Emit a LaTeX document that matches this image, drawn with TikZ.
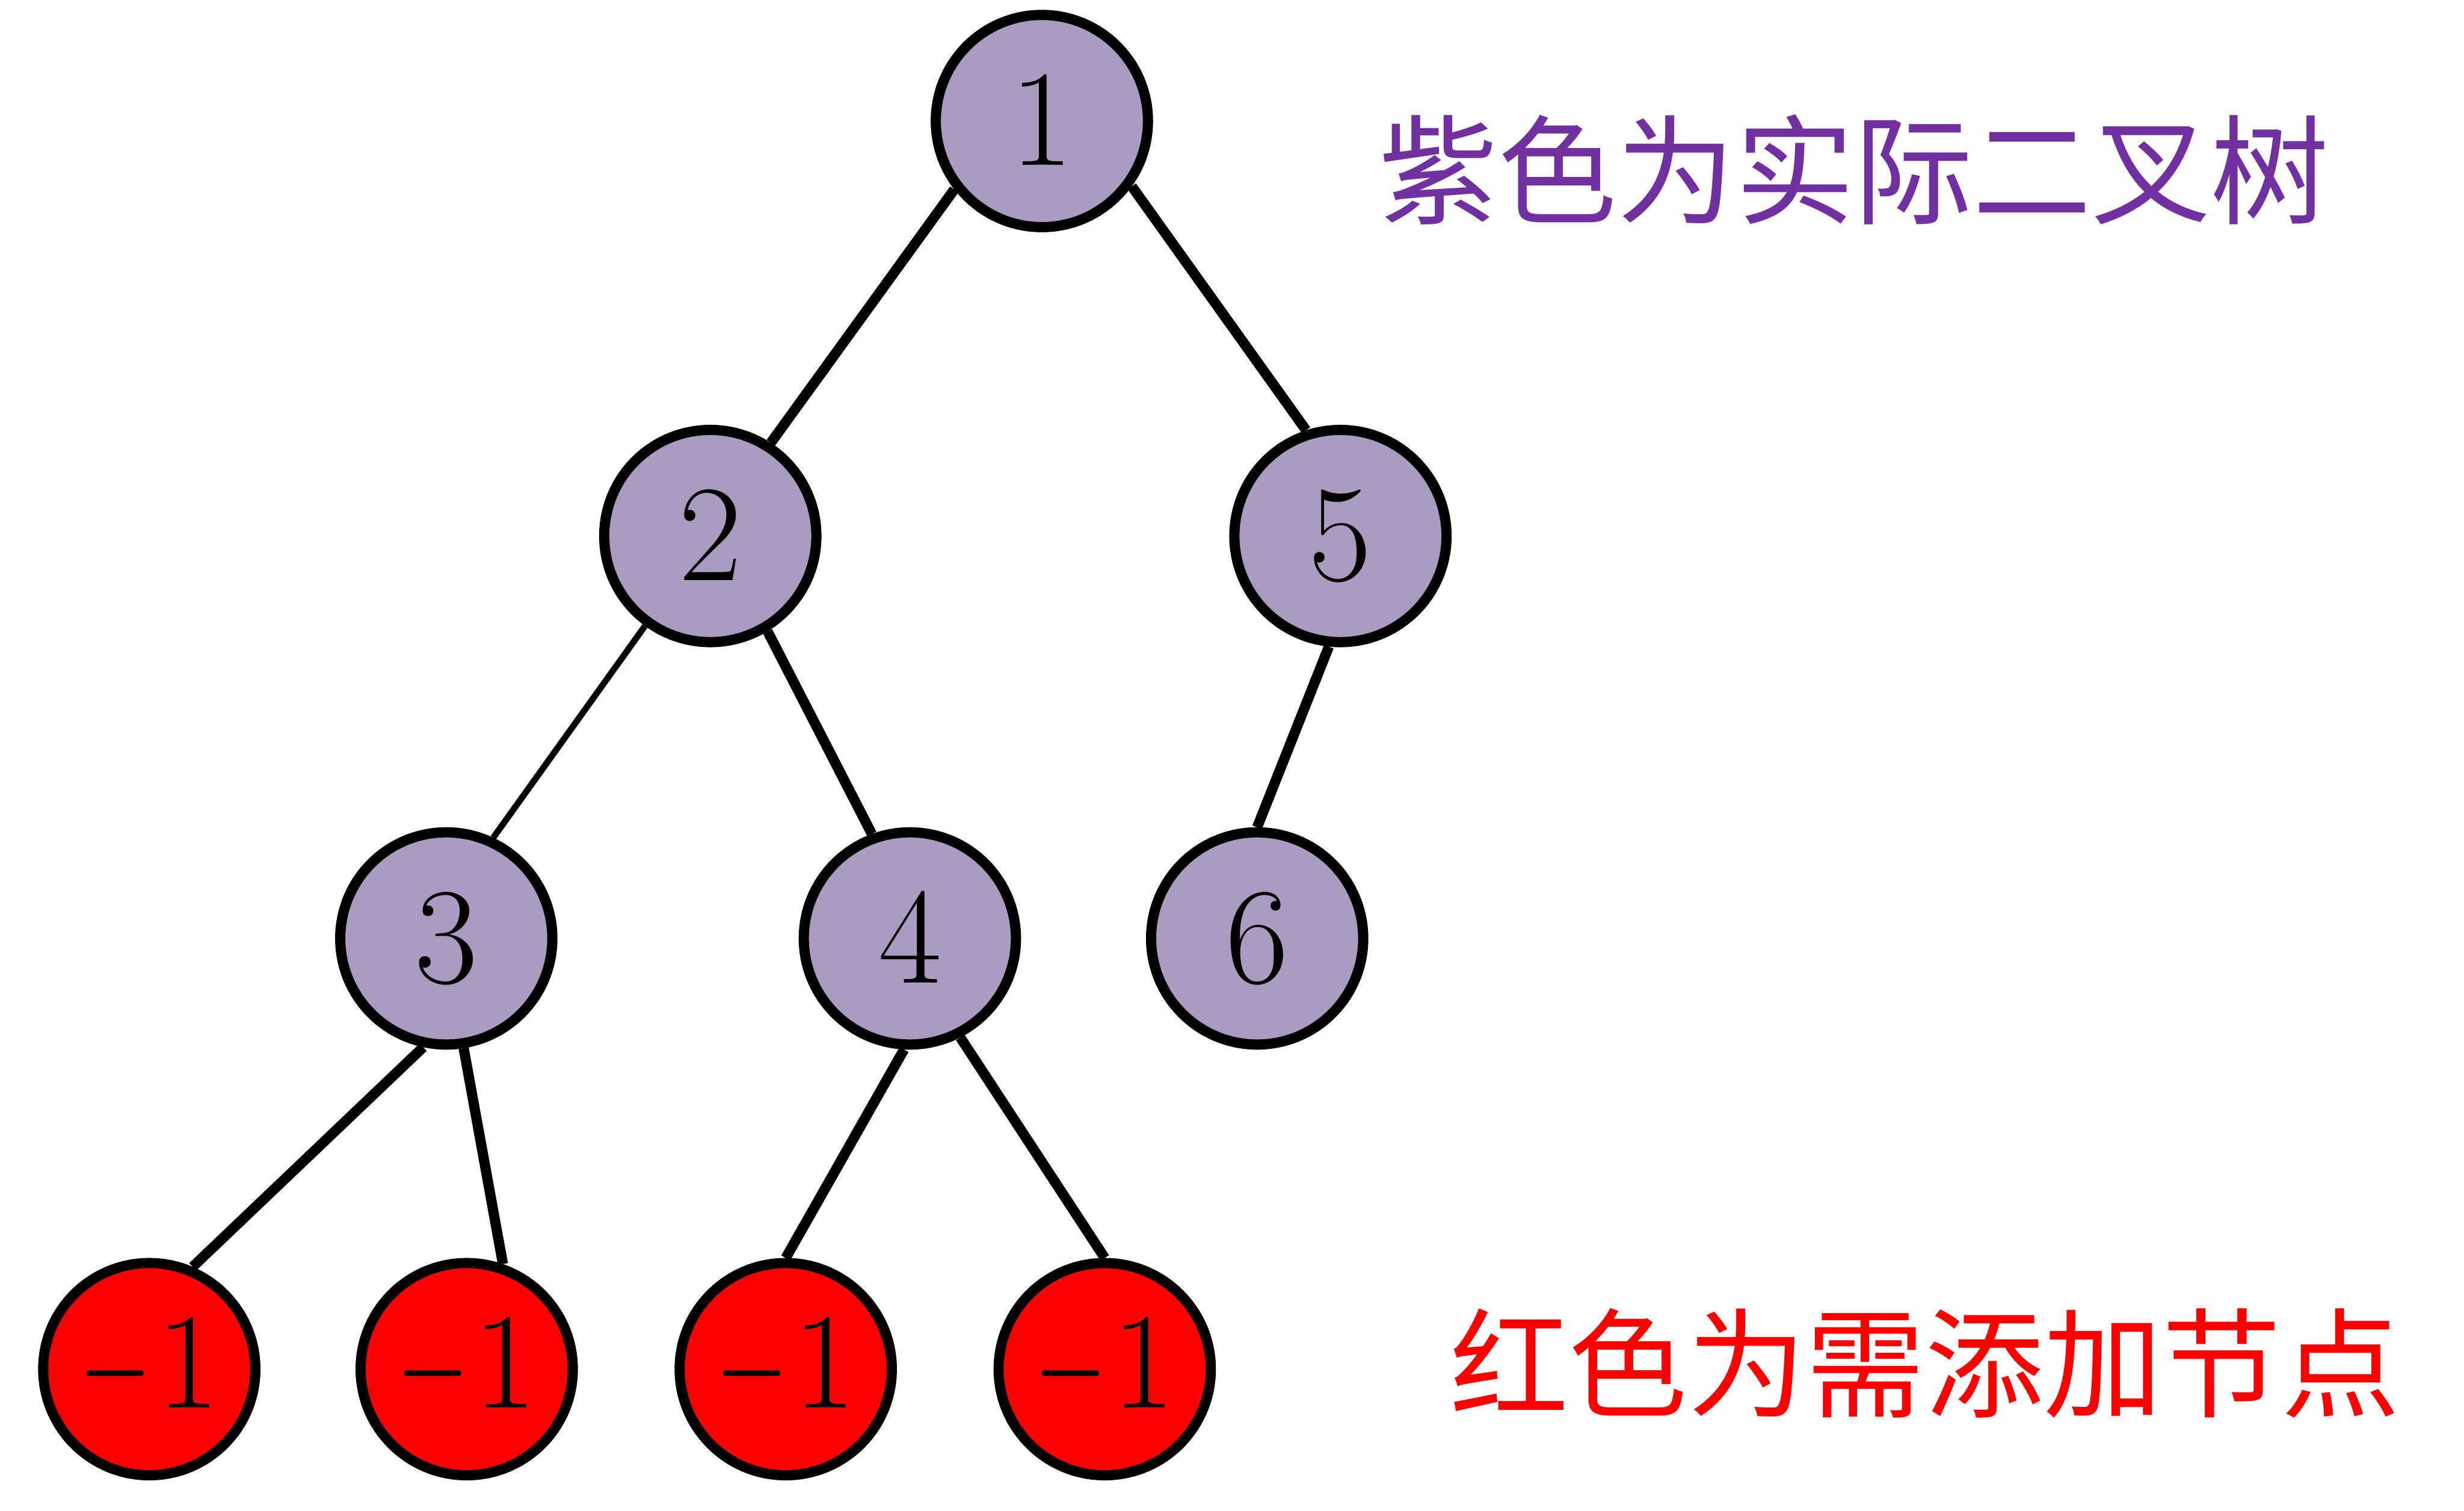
\documentclass[tikz,border=0pt]{standalone}
\usepackage{fontspec}
\newfontfamily\cjk{Noto Sans CJK SC}
\definecolor{treepurple}{HTML}{AA9BC0}
\definecolor{textpurple}{HTML}{7030A0}
\begin{document}
\begin{tikzpicture}[line width=0.065cm]
\useasboundingbox (0,0) rectangle (15.68,9.61);
\tikzstyle{every node}=[draw,circle,minimum size=1.35cm,inner sep=0pt,font=\fontsize{29}{31}\selectfont]
\foreach \a/\x/\y/\l in {n1/6.63/8.84/1, n2/4.52/6.20/2, n5/8.53/6.20/5, n3/2.84/3.64/3, n4/5.79/3.64/4, n6/8.00/3.64/6}{
\path (\x,\y) node [fill=treepurple] (\a) {$\l$};
}
\foreach \a/\x in {m1/0.95, m2/2.97, m3/5.00, m4/7.03}{
\path (\x,0.90) node [fill=red] (\a) {\scalebox{0.68}[1]{$-$}\kern0.03em$1$};
}
% edges
\draw (n1.-142) -- (n2.57) (n1.-36) -- (n5.108);
\draw [line width=0.04cm] (n2.-126) -- (n3.65);
\draw (n2.-59) -- (n4.110) (n5.-96) -- (n6.90);
\draw (n3.-102) -- (m1.67) (n3.-81) -- (m2.71);
\draw (n4.-93) -- (m3.90) (n4.-63) -- (m4.90);
% legend
\path (11.80,8.53) node [draw=none,rectangle,textpurple,font=\cjk\fontsize{21.5}{24}\selectfont] (purplenote) {紫色为实际二叉树};
\path (12.25,0.94) node [draw=none,rectangle,red,font=\cjk\fontsize{21.5}{24}\selectfont] (rednote) {红色为需添加节点};
\end{tikzpicture}
\end{document}
